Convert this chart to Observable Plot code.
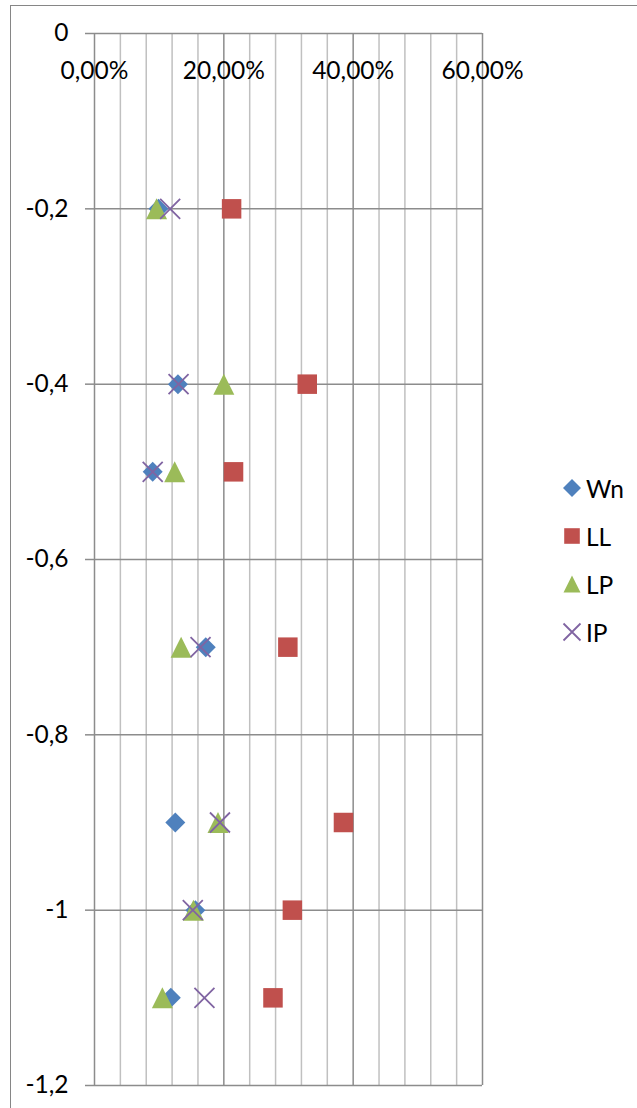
<!DOCTYPE html>
<html><head><meta charset="utf-8">
<script src="https://cdn.jsdelivr.net/npm/d3@7"></script>
<script src="https://cdn.jsdelivr.net/npm/@observablehq/plot@0.6"></script>
<style>
html,body{margin:0;padding:0;background:#fff;}
#wrap{position:relative;width:637px;height:1108px;overflow:hidden;font-family:Lato,sans-serif;}
#border{position:absolute;left:10px;top:5px;width:700px;height:1200px;border-left:1.5px solid #868686;border-top:1.5px solid #868686;}
#chart{position:absolute;left:0;top:0;}
#legend{position:absolute;left:560px;top:464px;}
.item{display:flex;align-items:center;height:48px;font-size:24.5px;color:#000;}
.item span{margin-left:2px;}
</style></head><body><div id="wrap"><div id="border"></div><div id="chart"></div><div id="legend"></div></div>
<script>
const depths = [-0.2, -0.4, -0.5, -0.7, -0.9, -1.0, -1.1];
const wnValues = [9.9, 12.9, 9.0, 17.2, 12.5, 15.6, 11.8];
const llValues = [21.2, 32.9, 21.5, 29.9, 38.5, 30.6, 27.6];
const lpValues = [9.6, 20.0, 12.4, 13.4, 19.1, 15.3, 10.5];
const ipValues = [11.7, 13.0, 9.0, 16.4, 19.4, 15.2, 17.0];
const seriesNames = ["Wn", "LL", "LP", "IP"];
const seriesColors = ["#4F81BD", "#C0504D", "#9BBB59", "#8064A2"];
const xMajorTicks = [0, 20, 40, 60];
const xMinorTicks = [4, 8, 12, 16, 24, 28, 32, 36, 44, 48, 52, 56];
const xTickLabels = ["0,00%", "20,00%", "40,00%", "60,00%"];
const yTicks = [0, -0.2, -0.4, -0.6, -0.8, -1.0, -1.2];
const yTickLabels = ["0", "-0,2", "-0,4", "-0,6", "-0,8", "-1", "-1,2"];

const hw = s => Math.sqrt(s / Math.PI);
const diamondSym = {draw(c, s) {const r = hw(s); c.moveTo(0, -r); c.lineTo(r, 0); c.lineTo(0, r); c.lineTo(-r, 0); c.closePath();}};
const squareSym = {draw(c, s) {const r = hw(s); c.moveTo(-r, -r); c.lineTo(r, -r); c.lineTo(r, r); c.lineTo(-r, r); c.closePath();}};
const triangleSym = {draw(c, s) {const r = hw(s); c.moveTo(0, -r); c.lineTo(r, r); c.lineTo(-r, r); c.closePath();}};
const timesSym = {draw(c, s) {const r = hw(s); c.moveTo(-r, -r); c.lineTo(r, r); c.moveTo(r, -r); c.lineTo(-r, r);}};
const symbols = [diamondSym, squareSym, triangleSym, timesSym];
const sizes = [10, 9.75, 10.5, 10];
const legendSizes = [9, 7.8, 8.5, 8.5];

const rows = vals => depths.map((d, i) => ({depth: d, value: vals[i]}));
const allValues = [wnValues, llValues, lpValues, ipValues];

const dotMarks = allValues.map((vals, k) => k === 3
  ? Plot.dot(rows(vals), {x: "value", y: "depth", symbol: symbols[k], r: sizes[k], fill: "none", stroke: seriesColors[k], strokeWidth: 1.8})
  : Plot.dot(rows(vals), {x: "value", y: "depth", symbol: symbols[k], r: sizes[k], fill: seriesColors[k], stroke: "none"}));

const chart = Plot.plot({
  width: 637, height: 1108,
  marginTop: 33, marginRight: 155, marginBottom: 23, marginLeft: 94,
  style: {background: "transparent", fontFamily: "Lato, sans-serif", fontSize: "24.5px", color: "#000", overflow: "visible"},
  x: {domain: [0, 60], axis: null},
  y: {domain: [-1.2, 0]},
  marks: [
    Plot.ruleX(xMinorTicks, {stroke: "#c0c0c0", strokeWidth: 1.5}),
    Plot.ruleX(xMajorTicks, {stroke: "#8c8c8c", strokeWidth: 1.5}),
    Plot.ruleY(yTicks, {stroke: "#8c8c8c", strokeWidth: 1.5}),
    Plot.axisY({ticks: yTicks, tickSize: 9, tickPadding: 17, label: null,
      tickFormat: d => yTickLabels[yTicks.findIndex(t => Math.abs(t - d) < 1e-9)],
      stroke: "#8c8c8c", strokeWidth: 1.5, fontSize: 24.5, fill: "#000"}),
    Plot.text(xMajorTicks, {x: d => d, frameAnchor: "top", dy: 38, lineAnchor: "middle",
      text: d => xTickLabels[xMajorTicks.indexOf(d)], fontSize: 24.5, fill: "#000"}),
    ...dotMarks
  ]
});
document.getElementById("chart").append(chart);

const legend = d3.select("#legend");
seriesNames.forEach((name, k) => {
  const item = legend.append("div").attr("class", "item");
  const svg = item.append("svg").attr("width", 24).attr("height", 24);
  const r = legendSizes[k];
  const path = svg.append("path")
    .attr("transform", "translate(12,12)")
    .attr("d", d3.symbol(symbols[k], r * r * Math.PI)());
  if (k === 3) path.attr("fill", "none").attr("stroke", seriesColors[k]).attr("stroke-width", 1.8);
  else path.attr("fill", seriesColors[k]);
  item.append("span").text(name);
});
</script>
</body></html>
